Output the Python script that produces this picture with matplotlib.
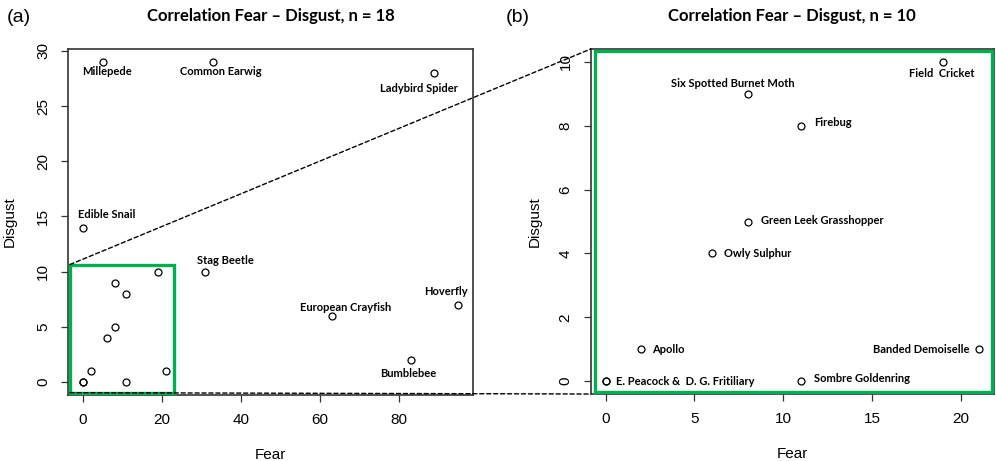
import numpy as np
import matplotlib.pyplot as plt
from matplotlib.patches import Rectangle, ConnectionPatch

# Panel (a): all species, n = 18
fear_a = [5, 33, 89, 0, 31, 63, 95, 83, 0, 0, 2, 6, 8, 8, 11, 11, 19, 21]
disgust_a = [29, 29, 28, 14, 10, 6, 7, 2, 0, 0, 1, 4, 5, 9, 8, 0, 10, 1]
names_a = ["Millepede", "Common Earwig", "Ladybird Spider", "Edible Snail",
           "Stag Beetle", "European Crayfish", "Hoverfly", "Bumblebee"]

# Panel (b): low-fear subset, n = 10
fear_b = [19, 8, 11, 8, 6, 2, 21, 0, 0, 11]
disgust_b = [10, 9, 8, 5, 4, 1, 1, 0, 0, 0]
names_b = ["Field  Cricket", "Six Spotted Burnet Moth", "Firebug",
           "Green Leek Grasshopper", "Owly Sulphur", "Apollo",
           "Banded Demoiselle", "E. Peacock &  D. G. Fritiliary", "",
           "Sombre Goldenring"]

xticks_a = [0, 20, 40, 60, 80]
yticks_a = [0, 5, 10, 15, 20, 25, 30]
xticks_b = [0, 5, 10, 15, 20]
yticks_b = [0, 2, 4, 6, 8, 10]

# label placement (pixel offsets from the point, horizontal alignment)
offs_a = [(4, -10, 'center'), (8, -10, 'center'), (-15, -16, 'center'),
          (24, 13, 'center'), (20, 11, 'center'), (14, 8, 'center'),
          (-12, 13, 'center'), (-2, -13, 'center')]
offs_b = [(-1, -12, 'center'), (-15, 10, 'center'), (13, 3, 'left'),
          (13, 1, 'left'), (12, 0, 'left'), (11, 0, 'left'),
          (-9, 0, 'right'), (10, 0, 'left'), (0, 0, 'left'), (13, 3, 'left')]

green = '#00b050'
lab_font = ['Lato', 'DejaVu Sans']
plt.rcParams['font.family'] = ['Liberation Sans', 'DejaVu Sans']

fig = plt.figure(figsize=(9.96, 4.61), dpi=100)
ax1 = fig.add_axes([0.0683, 0.1432, 0.4066, 0.7505])
ax2 = fig.add_axes([0.5931, 0.1453, 0.4046, 0.7484])


def pad_range(v):
    lo, hi = min(v), max(v)
    d = (hi - lo) * 0.04
    return lo - d, hi + d


def style(ax, xt, yt, xr, yr, ypad):
    ax.set_xlim(*xr)
    ax.set_ylim(*yr)
    ax.set_xticks(xt)
    ax.set_yticks(yt)
    ax.tick_params(direction='out', length=5, width=0.9, labelsize=11,
                   pad=8, color='#333333')
    for lab in ax.get_yticklabels():
        lab.set_rotation(90)
        lab.set_va('center')
    for s in ax.spines.values():
        s.set_linewidth(1.2)
        s.set_color('#333333')
    ax.set_xlabel('Fear', fontsize=11, labelpad=15)
    ax.set_ylabel('Disgust', fontsize=11, labelpad=ypad)


def points(ax, fx, dy, names, offs):
    ax.plot(fx, dy, 'o', mfc='none', mec='black', ms=5, mew=0.9)
    for i, nm in enumerate(names):
        if not nm:
            continue
        dx, ddy, ha = offs[i]
        ax.annotate(nm, (fx[i], dy[i]), xytext=(dx, ddy),
                    textcoords='offset pixels', ha=ha, va='center',
                    fontsize=8, fontweight='bold', family=lab_font)


style(ax1, xticks_a, yticks_a, pad_range(fear_a), pad_range(disgust_a), 14)
points(ax1, fear_a, disgust_a, names_a, offs_a)
ax1.set_title('Correlation Fear – Disgust, n = 18', fontsize=12,
              fontweight='bold', family=lab_font, pad=20)

style(ax2, xticks_b, yticks_b, pad_range(fear_b), pad_range(disgust_b), 12)
points(ax2, fear_b, disgust_b, names_b, offs_b)
ax2.set_title('Correlation Fear – Disgust, n = 10', fontsize=12,
              fontweight='bold', family=lab_font, pad=20)

# zoom box in panel (a)
ax1.add_patch(Rectangle((-3.3, -0.95), 26.3, 11.6, fill=False,
                        ec=green, lw=2.4, zorder=3, clip_on=False))
# green frame in panel (b)
ax2.add_patch(Rectangle((0.01, 0.006), 0.985, 0.988, transform=ax2.transAxes,
                        fill=False, ec=green, lw=2.4, zorder=3, clip_on=False))

for ya, yb in [(10.65, 1.0), (-0.95, 0.0)]:
    con = ConnectionPatch(xyA=(-3.3, ya), coordsA=ax1.transData,
                          xyB=(0.0, yb), coordsB=ax2.transAxes,
                          ls=(0, (3, 2)), lw=1.0, color='black', zorder=1)
    fig.add_artist(con)

fig.text(0.007, 0.963, '(a)', fontsize=14, va='center')
fig.text(0.508, 0.963, '(b)', fontsize=14, va='center')

fig.savefig('out.png', dpi=100)
